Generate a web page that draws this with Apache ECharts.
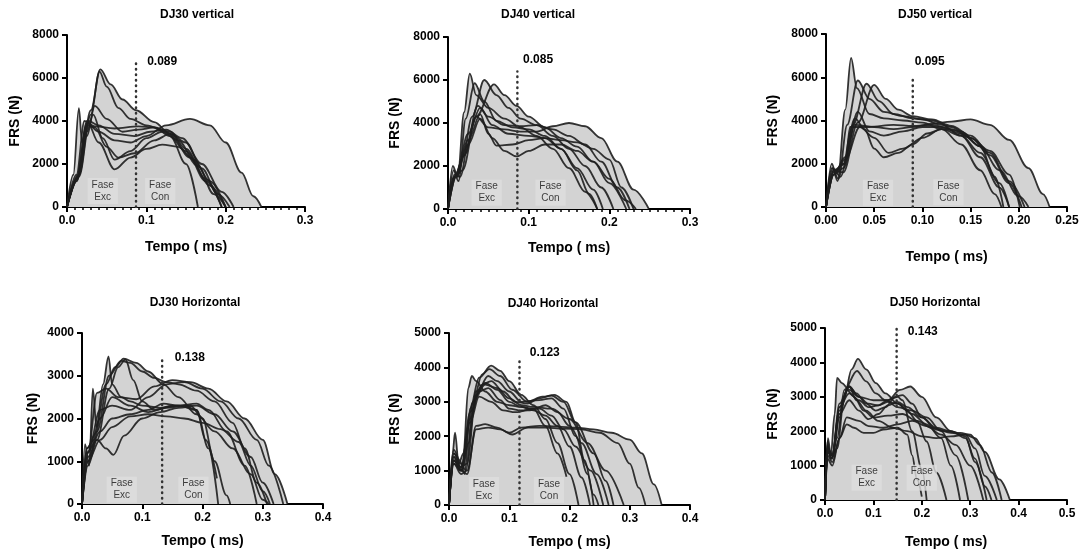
<!DOCTYPE html>
<html><head><meta charset="utf-8">
<script src="https://cdn.jsdelivr.net/npm/echarts@6/dist/echarts.min.js"></script>
<style>html,body{margin:0;padding:0;background:#fff}#c{width:1082px;height:553px}</style>
</head><body><div id="c"></div>
<script>
// ---------- DATA ----------
const panelTitles = ['DJ30 vertical','DJ40 vertical','DJ50 vertical','DJ30 Horizontal','DJ40 Horizontal','DJ50 Horizontal'];
const xMax  = [0.3, 0.3, 0.25, 0.4, 0.4, 0.5];
const xStep = [0.1, 0.1, 0.05, 0.1, 0.1, 0.1];
const xDecimals = [1, 1, 2, 1, 1, 1];
const yMax  = [8000, 8000, 8000, 4000, 5000, 5000];
const yStep = [2000, 2000, 2000, 1000, 1000, 1000];
const xTitle = 'Tempo ( ms)';
const yTitle = 'FRS (N)';
const cutLabels = ['0.089','0.085','0.095','0.138','0.123','0.143'];
const cutTime = [0.087, 0.086, 0.090, 0.133, 0.117, 0.148];
const cutTop  = [6750, 6400, 6050, 3370, 4170, 5000];
const cutLabelAt = [[0.101,6750],[0.093,6930],[0.092,6720],[0.154,3420],[0.134,4430],[0.171,4890]];
const phaseNames = ['Fase\nExc','Fase\nCon'];
const phaseAt = [
  [[0.045,744],[0.1175,744]],
  [[0.048,760],[0.127,760]],
  [[0.054,660],[0.127,680]],
  [[0.066,335],[0.185,335]],
  [[0.058,436],[0.166,436]],
  [[0.086,648],[0.200,648]]
];

const dj30v = [
  [[0,0],[0.015,1500],[0.03,4500],[0.042,6400],[0.055,5700],[0.07,5000],[0.087,4500],[0.11,3950],[0.13,3400],[0.155,2300],[0.18,1000],[0.2,0]],
  [[0,0],[0.015,1400],[0.03,4300],[0.041,6300],[0.05,5600],[0.065,4600],[0.08,4100],[0.1,3800],[0.125,3500],[0.15,2600],[0.175,1200],[0.195,0]],
  [[0,0],[0.012,1200],[0.025,3300],[0.035,4700],[0.05,4100],[0.07,3500],[0.09,3600],[0.11,3700],[0.13,3300],[0.15,2000],[0.165,0]],
  [[0,0],[0.012,1300],[0.025,3500],[0.033,4300],[0.045,3200],[0.06,2200],[0.08,2600],[0.1,3200],[0.12,3500],[0.14,3100],[0.165,1900],[0.185,600],[0.2,0]],
  [[0,0],[0.008,1500],[0.015,4600],[0.019,3000],[0.025,4000],[0.04,3000],[0.06,1750],[0.08,2300],[0.1,2700],[0.12,2900],[0.14,2800],[0.16,2200],[0.18,1200],[0.2,0]],
  [[0,0],[0.012,1200],[0.025,3800],[0.035,3700],[0.05,2800],[0.065,2300],[0.085,2500],[0.11,3100],[0.13,3400],[0.15,3000],[0.17,1800],[0.19,600],[0.205,0]],
  [[0,0],[0.012,1500],[0.022,4000],[0.035,3750],[0.06,3650],[0.09,3750],[0.11,3700],[0.13,3500],[0.15,2700],[0.175,1300],[0.195,0]],
  [[0,0],[0.012,1300],[0.025,3900],[0.04,3500],[0.06,3100],[0.08,3000],[0.1,3300],[0.125,3800],[0.155,4100],[0.18,3800],[0.2,3000],[0.22,1600],[0.235,500],[0.245,0]],
  [[0,0],[0.015,1500],[0.027,4000],[0.04,3800],[0.06,3400],[0.085,3300],[0.105,3500],[0.125,3600],[0.145,3200],[0.17,2000],[0.195,700],[0.21,0]]
];
const dj40v = [
  [[0,0],[0.006,2000],[0.012,1500],[0.02,4500],[0.027,6300],[0.035,5300],[0.05,4700],[0.07,4200],[0.09,3800],[0.11,3400],[0.13,2800],[0.15,1900],[0.17,800],[0.185,0]],
  [[0,0],[0.007,1800],[0.013,1300],[0.022,4200],[0.033,5850],[0.045,5000],[0.06,4100],[0.08,3800],[0.1,3700],[0.12,3400],[0.14,2800],[0.16,1900],[0.18,900],[0.192,0]],
  [[0,0],[0.008,1600],[0.015,1500],[0.03,4300],[0.045,6000],[0.06,5300],[0.075,4700],[0.09,4200],[0.11,3900],[0.13,3400],[0.15,2800],[0.17,2000],[0.19,1000],[0.205,0]],
  [[0,0],[0.008,1500],[0.018,1800],[0.035,4300],[0.057,5800],[0.07,5300],[0.085,4800],[0.1,4300],[0.12,3800],[0.14,3300],[0.16,2900],[0.18,2200],[0.2,1200],[0.221,0]],
  [[0,0],[0.008,1500],[0.02,2500],[0.037,4800],[0.05,4300],[0.07,3900],[0.09,3850],[0.11,3900],[0.13,3700],[0.15,3400],[0.17,3000],[0.19,2200],[0.21,1000],[0.225,0]],
  [[0,0],[0.008,1500],[0.02,2500],[0.035,4300],[0.05,3800],[0.07,3700],[0.09,3600],[0.11,3600],[0.13,3850],[0.15,4000],[0.17,3850],[0.19,3300],[0.21,2200],[0.23,900],[0.249,0]],
  [[0,0],[0.01,1500],[0.025,3000],[0.04,4200],[0.055,3300],[0.07,2700],[0.085,2450],[0.1,2700],[0.12,3000],[0.14,3000],[0.16,2700],[0.18,2200],[0.2,1400],[0.22,400],[0.233,0]],
  [[0,0],[0.01,1500],[0.025,3200],[0.04,4400],[0.05,3500],[0.06,2950],[0.08,3000],[0.1,3200],[0.12,3300],[0.14,3200],[0.16,3100],[0.18,2800],[0.2,2300],[0.215,1000],[0.23,0]],
  [[0,0],[0.01,1600],[0.025,3500],[0.04,4700],[0.055,3900],[0.075,3500],[0.1,3400],[0.12,3300],[0.14,2800],[0.16,1800],[0.175,700],[0.185,0]]
];
const dj50v = [
  [[0,0],[0.006,2000],[0.012,1200],[0.02,4500],[0.026,6900],[0.032,5500],[0.045,4300],[0.06,4100],[0.08,4000],[0.1,3900],[0.12,3600],[0.14,2900],[0.16,1700],[0.175,600],[0.182,0]],
  [[0,0],[0.006,1800],[0.013,1300],[0.022,3800],[0.033,5850],[0.045,5000],[0.06,4400],[0.08,4200],[0.1,4050],[0.12,3800],[0.14,3300],[0.16,2300],[0.18,900],[0.19,0]],
  [[0,0],[0.007,1800],[0.015,1400],[0.028,3800],[0.042,5700],[0.055,4900],[0.07,4300],[0.09,4100],[0.11,4000],[0.13,3700],[0.15,3200],[0.17,2400],[0.19,1100],[0.203,0]],
  [[0,0],[0.008,1700],[0.018,1600],[0.033,3900],[0.05,5650],[0.062,5000],[0.075,4500],[0.09,4200],[0.11,4050],[0.13,3750],[0.15,3300],[0.17,2500],[0.19,1200],[0.206,0]],
  [[0,0],[0.008,1500],[0.02,2300],[0.03,3800],[0.05,3700],[0.07,3600],[0.09,3700],[0.11,3850],[0.13,3950],[0.15,4050],[0.17,3800],[0.19,3100],[0.21,1800],[0.225,600],[0.232,0]],
  [[0,0],[0.008,1600],[0.018,2000],[0.03,4100],[0.04,3600],[0.05,2700],[0.06,2300],[0.075,2500],[0.09,2900],[0.105,3400],[0.12,3600],[0.14,3300],[0.16,2500],[0.18,1100],[0.19,0]],
  [[0,0],[0.008,1500],[0.018,1800],[0.033,4400],[0.045,3500],[0.06,3300],[0.08,3500],[0.1,3700],[0.12,3700],[0.14,3400],[0.16,2800],[0.18,1700],[0.2,500],[0.21,0]],
  [[0,0],[0.008,1700],[0.02,2000],[0.025,3700],[0.045,3700],[0.07,3800],[0.09,3750],[0.11,3800],[0.13,3600],[0.15,3200],[0.17,2600],[0.19,1500],[0.201,0]],
  [[0,0],[0.008,1500],[0.02,2200],[0.035,3700],[0.05,3200],[0.065,2500],[0.08,2700],[0.1,3200],[0.12,3600],[0.14,3500],[0.16,2800],[0.175,1400],[0.184,0]]
];
const dj30h = [
  [[0,0],[0.005,1400],[0.012,900],[0.018,2700],[0.024,1800],[0.035,2800],[0.044,3450],[0.05,2800],[0.065,2500],[0.08,2400],[0.1,2300],[0.13,2250],[0.16,2300],[0.19,2200],[0.21,1300],[0.226,0]],
  [[0,0],[0.008,1300],[0.02,1500],[0.04,2800],[0.055,3200],[0.069,3400],[0.09,3300],[0.11,3100],[0.135,2800],[0.16,2500],[0.19,2100],[0.22,1700],[0.25,1300],[0.28,700],[0.3,100],[0.31,0]],
  [[0,0],[0.008,1200],[0.025,1500],[0.045,2700],[0.06,3200],[0.072,3380],[0.085,2900],[0.1,2400],[0.12,2200],[0.15,2300],[0.18,2300],[0.2,2000],[0.22,1000],[0.24,200],[0.246,0]],
  [[0,0],[0.008,1300],[0.025,1700],[0.045,3000],[0.065,3350],[0.08,3300],[0.1,3100],[0.12,2950],[0.14,2850],[0.16,2800],[0.19,2650],[0.22,2400],[0.25,1900],[0.27,1300],[0.29,500],[0.307,0]],
  [[0,0],[0.01,1200],[0.025,2600],[0.04,2700],[0.06,2500],[0.09,2450],[0.12,2750],[0.15,2900],[0.18,2850],[0.21,2700],[0.24,2400],[0.27,2000],[0.3,1500],[0.32,700],[0.341,0]],
  [[0,0],[0.01,1200],[0.03,2200],[0.05,2300],[0.08,2200],[0.11,2500],[0.14,2800],[0.17,2850],[0.2,2700],[0.23,2400],[0.26,2000],[0.29,1500],[0.31,900],[0.334,0]],
  [[0,0],[0.01,900],[0.025,1500],[0.04,1300],[0.052,1150],[0.07,1600],[0.1,2000],[0.13,2150],[0.16,2250],[0.19,2300],[0.22,2100],[0.25,1700],[0.28,1100],[0.3,500],[0.318,0]],
  [[0,0],[0.01,1000],[0.03,1500],[0.05,1800],[0.08,2050],[0.11,2100],[0.14,2050],[0.17,2000],[0.2,1900],[0.23,1750],[0.26,1450],[0.28,900],[0.3,300],[0.312,0]],
  [[0,0],[0.01,1100],[0.03,1700],[0.05,2000],[0.08,2100],[0.11,2200],[0.135,2350],[0.16,2300],[0.19,2350],[0.21,2200],[0.24,1700],[0.27,900],[0.29,0]],
  [[0,0],[0.01,1000],[0.03,2000],[0.05,2500],[0.08,2300],[0.11,2150],[0.14,2250],[0.17,2300],[0.19,2200],[0.205,1500],[0.224,600]]
];
const dj40h = [
  [[0,0],[0.006,1500],[0.01,2100],[0.016,1200],[0.024,1500],[0.032,3400],[0.038,3750],[0.045,3600],[0.06,3300],[0.08,3000],[0.1,2900],[0.12,2850],[0.14,2800],[0.16,2300],[0.18,1500],[0.195,820]],
  [[0,0],[0.008,1600],[0.018,1300],[0.026,900],[0.035,2800],[0.05,3700],[0.07,4050],[0.085,3900],[0.1,3600],[0.12,3200],[0.14,2900],[0.16,2500],[0.18,1800],[0.2,900],[0.215,0]],
  [[0,0],[0.008,1500],[0.02,1200],[0.028,1000],[0.04,3000],[0.055,3800],[0.067,3950],[0.085,3750],[0.105,3350],[0.13,3000],[0.155,3150],[0.175,3200],[0.195,3000],[0.21,2400],[0.225,1300],[0.24,300],[0.248,0]],
  [[0,0],[0.008,1400],[0.02,1100],[0.03,1200],[0.045,3200],[0.065,3750],[0.08,3600],[0.1,3300],[0.12,3000],[0.15,3050],[0.17,3100],[0.19,2800],[0.21,2000],[0.23,900],[0.24,0]],
  [[0,0],[0.008,1500],[0.022,1000],[0.032,1800],[0.045,3300],[0.06,3550],[0.08,3350],[0.1,3000],[0.12,2850],[0.14,2750],[0.16,2600],[0.18,2300],[0.2,1700],[0.22,800],[0.234,0]],
  [[0,0],[0.008,1300],[0.02,1100],[0.035,2500],[0.05,3300],[0.065,3400],[0.085,3050],[0.1,2800],[0.12,2750],[0.14,2800],[0.16,2900],[0.18,2700],[0.2,2300],[0.22,1800],[0.245,900],[0.265,0]],
  [[0,0],[0.008,1200],[0.02,1000],[0.035,2400],[0.05,3150],[0.07,3000],[0.09,2750],[0.11,2700],[0.13,2750],[0.15,2800],[0.17,2600],[0.19,2200],[0.21,1700],[0.235,1000],[0.256,0]],
  [[0,0],[0.008,1300],[0.02,1000],[0.03,900],[0.045,2300],[0.06,2350],[0.08,2250],[0.1,2100],[0.12,2250],[0.15,2300],[0.18,2280],[0.21,2250],[0.24,2200],[0.27,2100],[0.3,1900],[0.32,1500],[0.34,600],[0.353,0]],
  [[0,0],[0.008,1200],[0.02,900],[0.03,1000],[0.045,2200],[0.065,2250],[0.085,2200],[0.105,2050],[0.13,2250],[0.16,2250],[0.19,2220],[0.22,2200],[0.25,2100],[0.28,1800],[0.3,1200],[0.315,500],[0.326,0]],
  [[0,0],[0.008,1400],[0.02,1000],[0.035,2700],[0.055,3500],[0.07,3600],[0.09,3300],[0.11,3000],[0.13,2950],[0.15,3100],[0.17,3180],[0.19,3000],[0.21,2400],[0.24,1500],[0.26,700],[0.273,0]],
  [[0,0],[0.008,1300],[0.02,1000],[0.04,3000],[0.06,3500],[0.08,3400],[0.1,3100],[0.12,2900],[0.14,2850],[0.17,2800],[0.2,2500],[0.23,1800],[0.26,1000],[0.29,0]]
];
const dj50h = [
  [[0,0],[0.005,1700],[0.012,1200],[0.025,1500],[0.04,3000],[0.055,3800],[0.068,4100],[0.085,3800],[0.105,3400],[0.125,3100],[0.15,2800],[0.18,2500],[0.21,2200],[0.24,1800],[0.26,1000],[0.279,0]],
  [[0,0],[0.005,1600],[0.013,1200],[0.025,1800],[0.04,3200],[0.066,3750],[0.085,3450],[0.105,3100],[0.125,2900],[0.15,2700],[0.18,2600],[0.21,2400],[0.24,2000],[0.27,1300],[0.296,0]],
  [[0,0],[0.006,1800],[0.012,1300],[0.02,2500],[0.025,3550],[0.035,3400],[0.05,3200],[0.07,3000],[0.1,2900],[0.13,2900],[0.15,3000],[0.16,2900],[0.18,2000],[0.2,900],[0.21,0]],
  [[0,0],[0.005,1500],[0.015,1300],[0.03,2800],[0.05,3300],[0.07,3000],[0.09,2800],[0.11,2750],[0.13,2900],[0.155,3200],[0.176,3300],[0.2,3000],[0.23,2400],[0.26,2000],[0.29,1800],[0.31,1200],[0.33,400],[0.344,0]],
  [[0,0],[0.005,1400],[0.015,1300],[0.03,2700],[0.05,3300],[0.065,3100],[0.085,2800],[0.105,2600],[0.125,2700],[0.145,3000],[0.16,3050],[0.18,2800],[0.2,2400],[0.23,2050],[0.26,1950],[0.29,1900],[0.31,1500],[0.33,700],[0.355,0]],
  [[0,0],[0.005,1500],[0.015,1300],[0.03,2600],[0.05,3300],[0.065,2900],[0.085,2600],[0.11,2300],[0.14,2100],[0.17,2000],[0.2,1850],[0.23,1800],[0.26,1850],[0.29,1900],[0.31,1800],[0.33,1400],[0.36,600],[0.382,0]],
  [[0,0],[0.005,1400],[0.015,1200],[0.03,2400],[0.045,3200],[0.06,3000],[0.08,2600],[0.1,2400],[0.13,2450],[0.16,2500],[0.19,2300],[0.22,2100],[0.25,2000],[0.28,1950],[0.3,1900],[0.32,1600],[0.345,800],[0.365,0]],
  [[0,0],[0.005,1300],[0.015,1100],[0.03,1800],[0.045,2400],[0.07,2300],[0.09,2150],[0.12,2100],[0.15,2200],[0.18,2300],[0.21,2150],[0.24,1900],[0.27,1600],[0.3,1000],[0.327,0]],
  [[0,0],[0.005,1500],[0.015,1300],[0.03,2700],[0.05,3100],[0.07,2900],[0.09,2700],[0.11,2750],[0.13,2850],[0.15,2800],[0.17,2600],[0.19,2300],[0.21,1700],[0.23,800],[0.251,0]],
  [[0,0],[0.005,1400],[0.015,1300],[0.03,2500],[0.05,2900],[0.07,2600],[0.09,2350],[0.11,2500],[0.13,2750],[0.15,2850],[0.17,2700],[0.2,2400],[0.23,2100],[0.26,2000],[0.29,1850],[0.31,1100],[0.334,0]],
  [[0,0],[0.005,1200],[0.015,1000],[0.03,1800],[0.045,2200],[0.06,2100],[0.08,1950],[0.1,1950],[0.12,2050],[0.15,2100],[0.17,1900],[0.18,1300],[0.19,600],[0.2,100]]
];
const panelCurves = [dj30v, dj40v, dj50v, dj30h, dj40h, dj50h];

// ---------- LAYOUT ----------
const grids = [
  {left:67, top:35, width:238, height:172},
  {left:448, top:37, width:242, height:172},
  {left:826, top:34, width:241, height:173},
  {left:82, top:333, width:241, height:171},
  {left:449, top:333, width:241, height:172},
  {left:825, top:328, width:242, height:172}
];
const yNameGap = [45,46,46,42,47,45];
const xNameGap = [33,32,43,30,30,35];
const titleXY = [[197,15],[538,15],[935,15],[195,303],[553,304],[935,303]];
const minorX = [true,true,false,false,false,false];

const FONT = '"Liberation Sans", Arial, Helvetica, sans-serif';
const FILL = '#d3d3d3';
const LINE = '#1e1e1e';

const xAxes = [], yAxes = [], series = [], graphic = [];
grids.forEach((g, i) => {
  xAxes.push({
    gridIndex: i, type: 'value', min: 0, max: xMax[i], interval: xStep[i],
    axisLine: {show: true, lineStyle: {color: '#000', width: 2}},
    axisTick: {show: true, length: 5, lineStyle: {color: '#000', width: 2}},
    minorTick: {show: minorX[i], splitNumber: 10, length: 3, lineStyle: {color: '#000', width: 1.5}},
    splitLine: {show: false},
    axisLabel: {color: '#000', fontWeight: 'bold', fontSize: 12, fontFamily: FONT, margin: 8,
      formatter: v => v.toFixed(xDecimals[i])},
    name: xTitle, nameLocation: 'middle', nameGap: xNameGap[i],
    nameTextStyle: {color: '#000', fontWeight: 'bold', fontSize: 14, fontFamily: FONT}
  });
  yAxes.push({
    gridIndex: i, type: 'value', min: 0, max: yMax[i], interval: yStep[i],
    axisLine: {show: true, lineStyle: {color: '#000', width: 2}},
    axisTick: {show: true, length: 5, lineStyle: {color: '#000', width: 2}},
    splitLine: {show: false},
    axisLabel: {color: '#000', fontWeight: 'bold', fontSize: 12, fontFamily: FONT, margin: 8,
      formatter: v => String(Math.round(v))},
    name: yTitle, nameLocation: 'middle', nameGap: yNameGap[i],
    nameTextStyle: {color: '#000', fontWeight: 'bold', fontSize: 14, fontFamily: FONT}
  });
  const curves = panelCurves[i];
  curves.forEach(c => {
    series.push({
      type: 'line', xAxisIndex: i, yAxisIndex: i, data: c, smooth: 0.35, smoothMonotone: 'x',
      showSymbol: false, silent: true, z: 1,
      lineStyle: {width: 0, opacity: 0}, areaStyle: {color: FILL, opacity: 1}
    });
  });
  curves.forEach(c => {
    series.push({
      type: 'line', xAxisIndex: i, yAxisIndex: i, data: c, smooth: 0.35, smoothMonotone: 'x',
      showSymbol: false, silent: true, z: 3,
      lineStyle: {width: 1.8, color: LINE, opacity: 0.9}
    });
  });
  series.push({
    type: 'line', xAxisIndex: i, yAxisIndex: i, data: [[cutTime[i], 0], [cutTime[i], cutTop[i]]],
    showSymbol: false, silent: true, z: 4,
    lineStyle: {width: 2.5, color: '#333', type: [0.5, 5], cap: 'round'}
  });
  series.push({
    type: 'scatter', xAxisIndex: i, yAxisIndex: i, symbolSize: 0, z: 5, silent: true,
    data: phaseAt[i].map((p, k) => ({value: p, name: phaseNames[k]})),
    label: {show: true, formatter: '{b}', position: 'inside', align: 'center', verticalAlign: 'middle',
      color: '#111', fontSize: 10, lineHeight: 12, fontFamily: FONT,
      backgroundColor: '#dedede', padding: [1, 4]}
  });
  graphic.push({
    type: 'text', x: titleXY[i][0], y: titleXY[i][1], z: 10,
    style: {text: panelTitles[i], textAlign: 'center', textVerticalAlign: 'middle',
      font: 'bold 12px ' + FONT, fill: '#000'}
  });
});

const chart = echarts.init(document.getElementById('c'), null, {renderer: 'canvas'});
chart.setOption({
  animation: false,
  backgroundColor: '#fff',
  grid: grids,
  xAxis: xAxes,
  yAxis: yAxes,
  series: series,
  graphic: graphic
});
// cut-point value labels, placed through the axes' own scales
const cutGraphics = cutLabelAt.map((p, i) => {
  const px = chart.convertToPixel({gridIndex: i}, p);
  return {
    type: 'text', x: px[0], y: px[1], z: 10,
    style: {text: cutLabels[i], textAlign: 'left', textVerticalAlign: 'middle',
      font: 'bold 12px ' + FONT, fill: '#000'}
  };
});
chart.setOption({graphic: graphic.concat(cutGraphics)});
</script>
</body></html>
